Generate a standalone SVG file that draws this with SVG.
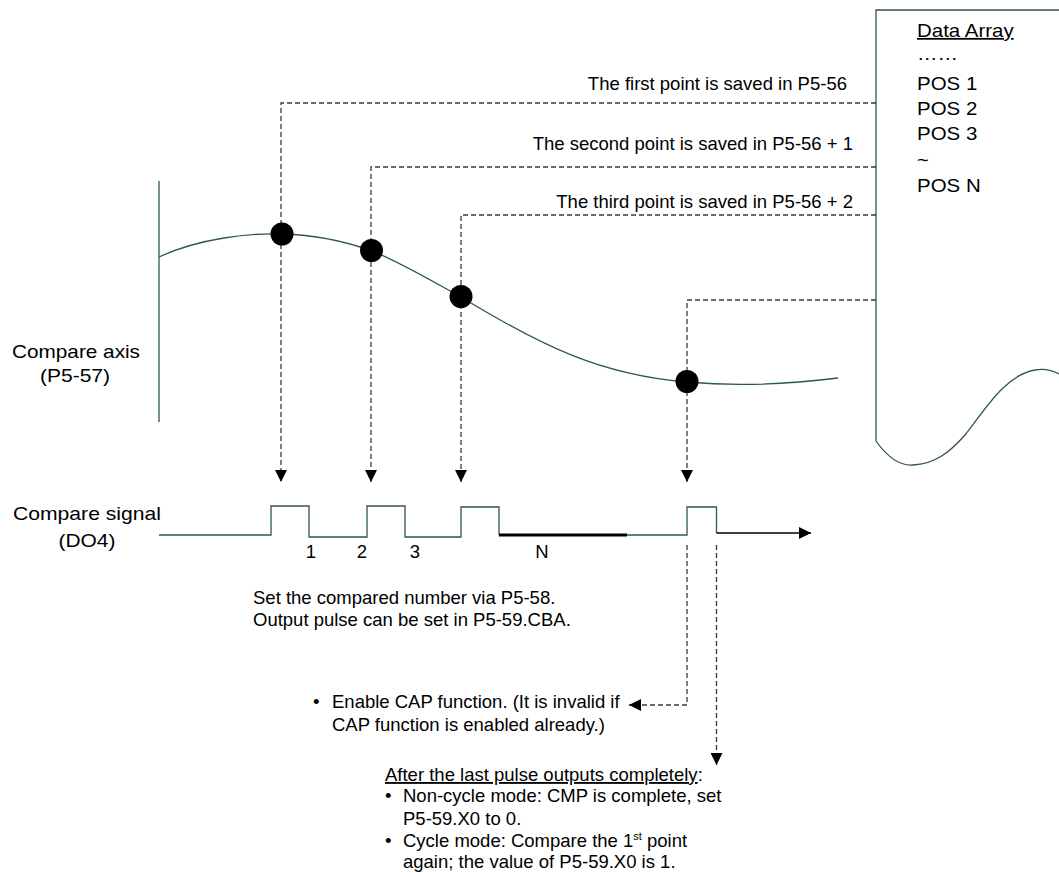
<svg xmlns="http://www.w3.org/2000/svg" width="1059" height="872" viewBox="0 0 1059 872">
<style>
.t{font-family:"Liberation Sans",Arial,sans-serif;font-size:18.5px;fill:#000}
.g{fill:none;stroke:#2d5a3d;stroke-width:1.3}
.d{fill:none;stroke:#3a3a3a;stroke-width:1.3;stroke-dasharray:5,3}
.k{fill:none;stroke:#000;stroke-width:1.3}
.dot{fill:#000}
</style>
<defs>
<marker id="ah" viewBox="0 0 10 10" refX="10" refY="5" markerUnits="userSpaceOnUse" markerWidth="12" markerHeight="12" orient="auto">
<path d="M0,0 L10,5 L0,10 z" fill="#000"/>
</marker>
<marker id="ah2" viewBox="0 0 10 10" refX="10" refY="5" markerUnits="userSpaceOnUse" markerWidth="14" markerHeight="12" orient="auto">
<path d="M0,0 L10,5 L0,10 z" fill="#000"/>
</marker>
</defs>
<rect width="1059" height="872" fill="#fff"/>

<g id="data-array">
<path class="g" d="M1059,10 H876 V441 C888,458 900,466 913,465 C935,464 950,452 965,435 C985,410 1005,375 1035,370 C1045,368 1052,370 1059,374"/>
<g transform="translate(917,0) scale(1.15,1)">
<text class="t" x="0" y="37" text-decoration="underline" style="font-size:17.8px">Data Array</text>
<text class="t" x="0" y="60" style="font-size:17.8px">……</text>
<text class="t" x="0" y="90" style="font-size:17.8px">POS 1</text>
<text class="t" x="0" y="115" style="font-size:17.8px">POS 2</text>
<text class="t" x="0" y="140" style="font-size:17.8px">POS 3</text>
<text class="t" x="0" y="166" style="font-size:17.8px">~</text>
<text class="t" x="0" y="192" style="font-size:17.8px">POS N</text>
</g>
</g>

<g id="compare-axis">
<line class="g" x1="159" y1="181" x2="159" y2="422"/>
<path class="g" d="M159,257 C200,238 250,233 282,234 C320,235 350,243 372,251 C400,262 430,280 461,297 C540,345 600,375 687,382 C740,387 790,384 838,378"/>
<text class="t" x="76" y="358" text-anchor="middle" textLength="128" lengthAdjust="spacingAndGlyphs">Compare axis</text>
<text class="t" x="75" y="382" text-anchor="middle" textLength="70" lengthAdjust="spacingAndGlyphs">(P5-57)</text>
</g>

<g id="connectors">
<path class="d" d="M876,103 H281 V482" marker-end="url(#ah)"/>
<path class="d" d="M876,167 H371 V482" marker-end="url(#ah)"/>
<path class="d" d="M876,215 H461 V482" marker-end="url(#ah)"/>
<path class="d" d="M876,300 H687 V482" marker-end="url(#ah)"/>
<path class="d" d="M687,545 V705 H629" marker-end="url(#ah2)"/>
<path class="d" d="M716.5,545 V765" marker-end="url(#ah)"/>
</g>

<g id="points">
<circle class="dot" cx="282" cy="234" r="11.5"/>
<circle class="dot" cx="371.5" cy="250.5" r="11.5"/>
<circle class="dot" cx="461" cy="296.5" r="11.5"/>
<circle class="dot" cx="687" cy="381.5" r="11.5"/>
</g>

<g id="point-labels">
<text class="t" x="847" y="90" text-anchor="end">The first point is saved in P5-56</text>
<text class="t" x="853" y="150" text-anchor="end">The second point is saved in P5-56 + 1</text>
<text class="t" x="853" y="208" text-anchor="end">The third point is saved in P5-56 + 2</text>
</g>

<g id="compare-signal">
<path class="g" d="M159,535 H271 V506 H309 V537 H367 V506 H405 V537 H461 V507 H499 V535"/>
<line x1="499" y1="535" x2="627" y2="535" stroke="#000" stroke-width="3"/>
<path class="g" d="M627,535 H687 V507 H716.5 V533"/>
<line class="k" x1="716.5" y1="533" x2="811" y2="533" marker-end="url(#ah2)"/>
<text class="t" x="311" y="558" text-anchor="middle">1</text>
<text class="t" x="362" y="558" text-anchor="middle">2</text>
<text class="t" x="415" y="558" text-anchor="middle">3</text>
<text class="t" x="542" y="558" text-anchor="middle">N</text>
<text class="t" x="87" y="520" text-anchor="middle" textLength="148" lengthAdjust="spacingAndGlyphs">Compare signal</text>
<text class="t" x="87" y="547" text-anchor="middle" textLength="57" lengthAdjust="spacingAndGlyphs">(DO4)</text>
</g>

<g id="notes">
<text class="t" x="253" y="604">Set the compared number via P5-58.</text>
<text class="t" x="253" y="626">Output pulse can be set in P5-59.CBA.</text>
<text class="t" x="313" y="708">•</text>
<text class="t" x="332" y="708">Enable CAP function. (It is invalid if</text>
<text class="t" x="332" y="731">CAP function is enabled already.)</text>
<text class="t" x="385" y="781"><tspan text-decoration="underline">After the last pulse outputs completely</tspan>:</text>
<text class="t" x="385" y="802">•</text>
<text class="t" x="403" y="802">Non-cycle mode: CMP is complete, set</text>
<text class="t" x="403" y="825">P5-59.X0 to 0.</text>
<text class="t" x="385" y="847">•</text>
<text class="t" x="403" y="847">Cycle mode: Compare the 1<tspan dy="-7" style="font-size:11px">st</tspan><tspan dy="7"> point</tspan></text>
<text class="t" x="403" y="868">again; the value of P5-59.X0 is 1.</text>
</g>
</svg>
